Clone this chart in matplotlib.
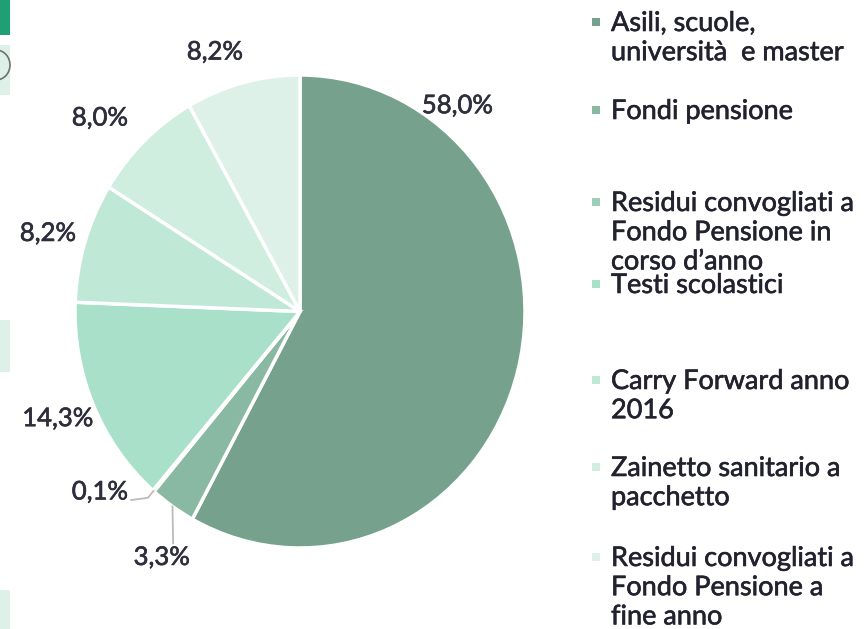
import numpy as np
import matplotlib.pyplot as plt
import matplotlib.patheffects as pe
from matplotlib.patches import Rectangle, Ellipse

plt.rcParams['font.family'] = ['Lato', 'DejaVu Sans']

# dati
categorie = ['Asili, scuole,\nuniversità  e master',
             'Fondi pensione',
             'Residui convogliati a\nFondo Pensione in\ncorso d\u2019anno',
             'Testi scolastici',
             'Carry Forward anno\n2016',
             'Zainetto sanitario a\npacchetto',
             'Residui convogliati a\nFondo Pensione a\nfine anno']
valori = [58.0, 3.3, 0.1, 14.3, 8.2, 8.0, 8.2]
etichette = ['58,0%', '3,3%', '0,1%', '14,3%', '8,2%', '8,0%', '8,2%']
colori = ['#76A18D', '#89B9A3', '#9CCFB8', '#A9E0C9', '#BFE8D6', '#CFEEE0', '#DDF1E8']

# posizione testo etichette (coordinate dati del grafico)
pos_etichette = [(0.70, 0.87), (-0.614, -1.04), (-0.889, -0.763), (-1.076, -0.453),
                 (-1.12, 0.33), (-0.889, 0.818), (-0.378, 1.097)]
# posizione voci legenda (pixel dall'alto)
legenda_y = [15, 103, 195, 277, 373, 460, 550]

W, H = 866, 629
fig = plt.figure(figsize=(W / 100, H / 100), dpi=100)

ax = fig.add_axes([75 / W, (H - 548) / H, 450 / W, 473 / H])
wedges, _ = ax.pie(valori, colors=colori, startangle=90, counterclock=False,
                   wedgeprops=dict(edgecolor='white', linewidth=2.5))
ax.set_aspect('auto')
ax.set_xlim(-1, 1)
ax.set_ylim(-1, 1)

spesso = [pe.withStroke(linewidth=0.45, foreground='#2A2A38')]

for (x, y), t in zip(pos_etichette, etichette):
    ax.text(x, y, t, ha='center', va='center', fontsize=18.5, color='#2E2E3C',
            path_effects=spesso)

# linee guida per le fette piccole
def bordo(i):
    w = wedges[i]
    a = np.deg2rad((w.theta1 + w.theta2) / 2)
    return np.cos(a), np.sin(a)

x0, y0 = bordo(2)
ax.plot([x0, -0.676, -0.75], [y0, -0.788, -0.797], color='#BBBBBB', lw=1.3, clip_on=False)
x0, y0 = bordo(1)
ax.plot([x0, x0 + 0.003], [y0, -0.98], color='#BBBBBB', lw=1.3, clip_on=False)

# legenda manuale
for lab, col, yt in zip(categorie, colori, legenda_y):
    fig.patches.append(Rectangle((592 / W, 1 - (yt + 11) / H), 8 / W, 8 / H,
                                 transform=fig.transFigure, facecolor=col, edgecolor='none'))
    fig.text(611 / W, 1 - (yt - 4) / H, lab, ha='left', va='top', fontsize=19.5,
             color='#22222E', linespacing=1.21, path_effects=spesso)

# elementi tagliati sul bordo sinistro
for (y1, y2, c) in [(0, 35, '#1FA074'), (45, 95, '#DDF1E8'), (320, 372, '#DDF1E8'), (590, 629, '#DDF1E8')]:
    fig.patches.append(Rectangle((0, 1 - y2 / H), 10 / W, (y2 - y1) / H,
                                 transform=fig.transFigure, facecolor=c, edgecolor='none'))
fig.patches.append(Ellipse((-4 / W, 1 - 65 / H), 28 / W, 30 / H, transform=fig.transFigure,
                           facecolor='none', edgecolor='#707070', lw=1.2))

fig.savefig('out.png', dpi=100)
